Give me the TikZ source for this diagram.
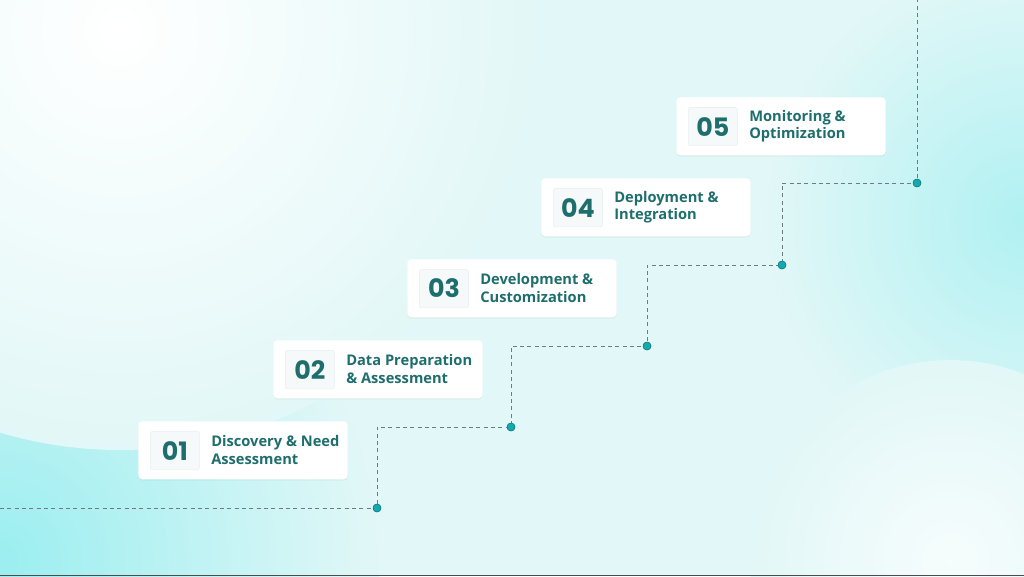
\documentclass[tikz,border=0pt]{standalone}
\usepackage{fontspec}
\setmainfont{Open Sans}
\newfontfamily\numfont{Poppins}
\usetikzlibrary{shadows}
\definecolor{teal1}{HTML}{1E6E6E}
\definecolor{dotc}{HTML}{13A9AE}
\definecolor{linec}{HTML}{6F7C7E}
\definecolor{bgbase}{HTML}{E2F7F7}
\definecolor{bgcyan}{HTML}{9BEEF0}
\begin{document}
\begin{tikzpicture}[x=0.75pt,y=-0.75pt,
  card/.style={draw=none,fill=white,rounded corners=3pt,minimum width=157pt,minimum height=43.5pt,drop shadow={shadow xshift=0pt,shadow yshift=-1pt,opacity=0.08},anchor=north west},
  numbox/.style={draw=teal1!10,fill=teal1!4,rounded corners=2pt,minimum width=37pt,minimum height=29pt,anchor=north west,font=\numfont\bfseries\fontsize{19}{19}\selectfont,text=teal1,inner sep=0pt},
  lab/.style={anchor=west,align=left,font=\fontsize{11}{13}\selectfont\bfseries,text=teal1,inner sep=0pt},
  conn/.style={draw=linec,dashed,dash pattern=on 3pt off 2.5pt,line width=0.7pt},
  dotn/.style={circle,fill=dotc,draw=dotc!70!black,line width=0.3pt,minimum size=6pt,inner sep=0pt}]
\useasboundingbox (0,0) rectangle (1024,576);
\begin{scope}
\clip (0,0) rectangle (1024,576);
\fill[bgbase] (0,0) rectangle (1024,576);
\shade[inner color=bgcyan,outer color=bgbase] (0,560) circle (380);
\shade[inner color=bgcyan!70!bgbase,outer color=bgbase] (1024,220) circle (260);
\shade[inner color=white,outer color=bgbase] (120,30) circle (420);
\shade[inner color=white!70!bgbase,outer color=bgbase] (950,560) circle (200);
\end{scope}
\draw[black!70,line width=1pt] (0,575.5) -- (1024,575.5);
\coordinate (s0) at (0,508);
\coordinate (top) at (917,0);
\foreach \i/\x/\y in {1/377/508,2/511/427,3/647/346,4/782/265,5/917/183}{
  \node[dotn] (d\i) at (\x,\y) {};
}
\draw[conn] (s0) -- (d1.center) |- (d2.center) |- (d3.center) |- (d4.center) |- (d5.center) -- (top);
\foreach \i/\x/\y/\t in {1/138/421/{Discovery \& Need\\Assessment},2/273/340/{Data Preparation\\\& Assessment},3/407/259/{Development \&\\Customization},4/541/178/{Deployment \&\\Integration},5/676/97/{Monitoring \&\\Optimization}}{
  \node[card] (c\i) at (\x,\y) {};
  \node[numbox] (n\i) at (\x+12,\y+10) {0\i};
  \node[lab] (l\i) at (\x+73,\y+29) {\t};
}
\foreach \i in {1,...,5}{\node[dotn] at (d\i) {};}
\end{tikzpicture}
\end{document}
